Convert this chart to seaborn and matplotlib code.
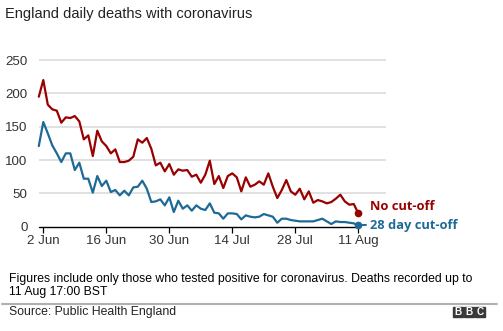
import numpy as np
import pandas as pd
import matplotlib
matplotlib.use("Agg")
import matplotlib.pyplot as plt
import matplotlib.dates as mdates
import seaborn as sns

# ---- data (1 Jun .. 11 Aug 2020) ----
start_date = "2020-06-01"
end_date = "2020-08-11"
no_cutoff = [195, 220, 183, 176, 174, 156, 164, 163, 166, 158,
             131, 137, 106, 144, 128, 121, 110, 116, 97, 97,
             99, 105, 131, 126, 133, 117, 92, 96, 83, 94,
             78, 86, 84, 85, 75, 78, 66, 78, 99, 64,
             76, 58, 76, 80, 74, 53, 74, 60, 63, 68,
             63, 80, 60, 43, 55, 70, 53, 48, 57, 41,
             53, 36, 40, 38, 35, 37, 42, 48, 38, 33,
             34, 20]
cutoff_28 = [121, 157, 140, 122, 110, 97, 110, 110, 85, 96,
             72, 72, 51, 76, 61, 69, 52, 55, 47, 54,
             47, 59, 60, 69, 57, 37, 38, 41, 32, 44,
             22, 39, 27, 32, 24, 32, 27, 25, 35, 21,
             20, 12, 20, 20, 19, 11, 17, 15, 14, 15,
             19, 17, 15, 6, 12, 12, 10, 9, 8, 8,
             8, 8, 10, 12, 8, 4, 8, 7, 7, 6,
             5, 2]
series_names = ["No cut-off", "28 day cut-off"]
x_tick_dates = ["2020-06-02", "2020-06-16", "2020-06-30", "2020-07-14", "2020-07-28", "2020-08-11"]
x_tick_labels = ["2 Jun", "16 Jun", "30 Jun", "14 Jul", "28 Jul", "11 Aug"]
y_ticks = [0, 50, 100, 150, 200, 250]

title = "England daily deaths with coronavirus"
note = ("Figures include only those who tested positive for coronavirus. Deaths recorded up to\n"
        "11 Aug 17:00 BST")
source = "Source: Public Health England"

RED = "#990000"
BLUE = "#1d6a96"
TXT = "#222222"

dates = pd.date_range(start_date, end_date, freq="D")
df = pd.DataFrame({
    "date": np.concatenate([dates, dates]),
    "deaths": no_cutoff + cutoff_28,
    "series": [series_names[0]] * len(dates) + [series_names[1]] * len(dates),
})

sns.set_theme(style="white")
plt.rcParams["font.family"] = ["Liberation Sans", "DejaVu Sans"]

W, H = 503, 331
fig = plt.figure(figsize=(W / 100, H / 100), dpi=100)

# axes geometry in pixels
ax_left_px, ax_right_px = 38.8, 386.0
y0_px, ytop_px = 226.7, 56.7   # y=0 and y=255
ax = fig.add_axes([ax_left_px / W, 1 - y0_px / H,
                   (ax_right_px - ax_left_px) / W, (y0_px - ytop_px) / H])

sns.lineplot(data=df, x="date", y="deaths", hue="series",
             palette={series_names[0]: RED, series_names[1]: BLUE},
             linewidth=1.6, ax=ax, legend=False, clip_on=False, zorder=3)

x0 = mdates.date2num(pd.Timestamp(start_date))
px_per_day = 4.5
ax.set_xlim(x0, x0 + (ax_right_px - ax_left_px) / px_per_day)
ax.set_ylim(0, 255)

for s in ax.spines.values():
    s.set_visible(False)

ax.set_yticks(y_ticks)
ax.set_yticklabels([str(v) for v in y_ticks], fontsize=9.6, color="#333333")
ax.tick_params(axis="y", length=0, pad=8)
for v in y_ticks[1:]:
    ax.axhline(v, color="#d9d9d9", linewidth=1.1, zorder=1)

# baseline
ax.plot([dates[0], dates[-1]], [0, 0], color="black", linewidth=1.0, zorder=2, clip_on=False)

ax.set_xticks([mdates.date2num(pd.Timestamp(d)) for d in x_tick_dates])
ax.set_xticklabels(x_tick_labels, fontsize=9.6, color="#333333")
ax.tick_params(axis="x", length=4, width=0.9, color="black", pad=2, direction="out", bottom=True)
ax.set_xlabel("")
ax.set_ylabel("")
ax.grid(False)

# end markers
last = dates[-1]
ax.plot([last], [no_cutoff[-1]], "o", color=RED, markersize=4.5, zorder=4, clip_on=False)
ax.plot([last], [cutoff_28[-1]], "o", color=BLUE, markersize=4.5, zorder=4, clip_on=False)
lead_end = last + pd.Timedelta(days=1.7)
ax.plot([last, lead_end], [cutoff_28[-1], cutoff_28[-1]], color=BLUE, linewidth=1.4, zorder=4, clip_on=False)

ax.text(last + pd.Timedelta(days=2.7), 31, series_names[0], color=RED, fontsize=9.3,
        fontweight="bold", va="center", ha="left", family=["Open Sans", "DejaVu Sans"])
ax.text(last + pd.Timedelta(days=2.5), cutoff_28[-1], series_names[1], color=BLUE, fontsize=9.3,
        fontweight="bold", va="center", ha="left", family=["Open Sans", "DejaVu Sans"])

# texts
fig.text(5 / W, 1 - 14 / H, title, fontsize=10.5, color=TXT, va="center", ha="left")
fig.text(9 / W, 1 - 285.5 / H, note, fontsize=8.8, color="black", va="center", ha="left",
         linespacing=1.2)
fig.add_artist(plt.Line2D([2 / W, 497 / W], [1 - 304 / H, 1 - 304 / H],
                          color="#b0b0b0", linewidth=1.5))
fig.text(9 / W, 1 - 312.5 / H, source, fontsize=8.8, color=TXT, va="center", ha="left")

# BBC logo
for i, letter in enumerate("BBC"):
    bx = (453 + i * 11) / W
    fig.add_artist(plt.Rectangle((bx, 1 - 317 / H), 10 / W, 10 / H,
                                 transform=fig.transFigure, color="#3a3a3a"))
    fig.text(bx + 5 / W, 1 - 312 / H, letter, fontsize=7.2, fontweight="bold",
             color="white", ha="center", va="center")

fig.savefig("out.png", dpi=100)
